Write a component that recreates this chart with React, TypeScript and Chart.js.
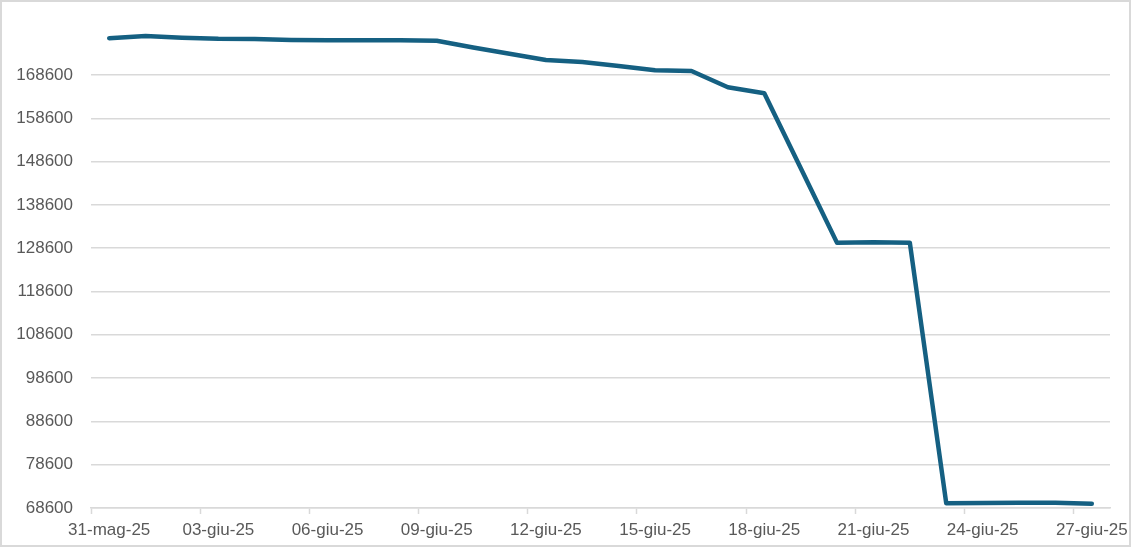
import React, { useEffect, useRef } from "react";
import { Chart, registerables } from "chart.js";

Chart.register(...registerables);

const dateLabels: string[] = [
  "31-mag-25", "01-giu-25", "02-giu-25", "03-giu-25", "04-giu-25", "05-giu-25", "06-giu-25",
  "07-giu-25", "08-giu-25", "09-giu-25", "10-giu-25", "11-giu-25", "12-giu-25", "13-giu-25",
  "14-giu-25", "15-giu-25", "16-giu-25", "17-giu-25", "18-giu-25", "19-giu-25", "20-giu-25",
  "21-giu-25", "22-giu-25", "23-giu-25", "24-giu-25", "25-giu-25", "26-giu-25", "27-giu-25",
];

const seriesValues: number[] = [
  177100, 177600, 177200, 176950, 176900, 176700, 176620,
  176620, 176600, 176500, 174950, 173500, 172070, 171600,
  170680, 169690, 169520, 165760, 164370, 147100, 129830,
  129990, 129870, 69710, 69760, 69800, 69830, 69570,
];

const yTickValues: number[] = [68600, 78600, 88600, 98600, 108600, 118600, 128600, 138600, 148600, 158600, 168600];

const LABEL_EVERY = 3;
const FONT = { family: "'Liberation Sans', Arial, sans-serif", size: 17 };
const TEXT = "#595959";
const GRID = "#d9d9d9";
const LINE = "#156082";

const framePlugin = {
  id: "frame",
  afterDraw(chart: any) {
    const ctx = chart.ctx;
    ctx.save();
    ctx.strokeStyle = GRID;
    ctx.lineWidth = 2;
    ctx.strokeRect(1, 1, chart.width - 2, chart.height - 2);
    ctx.restore();
  },
};

export default function App() {
  const ref = useRef<HTMLCanvasElement | null>(null);

  useEffect(() => {
    document.body.style.margin = "0";
    const canvas = ref.current;
    if (!canvas) return;
    const chart = new Chart(canvas, {
      type: "line",
      data: {
        labels: dateLabels,
        datasets: [
          {
            data: seriesValues,
            borderColor: LINE,
            backgroundColor: LINE,
            borderWidth: 4.5,
            borderCapStyle: "round",
            borderJoinStyle: "round",
            pointRadius: 0,
            tension: 0,
          },
        ],
      },
      options: {
        responsive: false,
        animation: false,
        maintainAspectRatio: false,
        layout: { padding: { top: 20, right: 21, bottom: 0, left: 0 } },
        plugins: { legend: { display: false }, tooltip: { enabled: false } },
        scales: {
          x: {
            type: "category",
            offset: true,
            grid: {
              offset: true,
              drawOnChartArea: false,
              drawTicks: true,
              tickLength: 6,
              tickWidth: 1.5,
              tickColor: (c: any) => (c.index % LABEL_EVERY === 0 && c.index < dateLabels.length ? GRID : "rgba(0,0,0,0)"),
            },
            border: { display: true, color: GRID, width: 1.5 },
            ticks: {
              autoSkip: false,
              maxRotation: 0,
              minRotation: 0,
              padding: 6,
              color: TEXT,
              font: FONT,
              callback: (_v: any, i: number) => (i % LABEL_EVERY === 0 ? dateLabels[i] : ""),
            },
            afterFit: (s: any) => {
              s.height = 39;
              s.paddingLeft = 0;
              s.paddingRight = 0;
            },
          },
          y: {
            min: 68600,
            max: 181300,
            afterBuildTicks: (s: any) => {
              s.ticks = yTickValues.map((v) => ({ value: v }));
            },
            grid: { color: GRID, lineWidth: 1.5, drawTicks: false },
            border: { display: false },
            ticks: { padding: 18, color: TEXT, font: FONT, callback: (v: any) => String(v) },
            afterFit: (s: any) => {
              s.width = 91;
              s.paddingTop = 0;
              s.paddingBottom = 0;
            },
          },
        },
      },
      plugins: [framePlugin],
    } as any);
    return () => chart.destroy();
  }, []);

  return <canvas ref={ref} width={1131} height={547} style={{ display: "block" }} />;
}
